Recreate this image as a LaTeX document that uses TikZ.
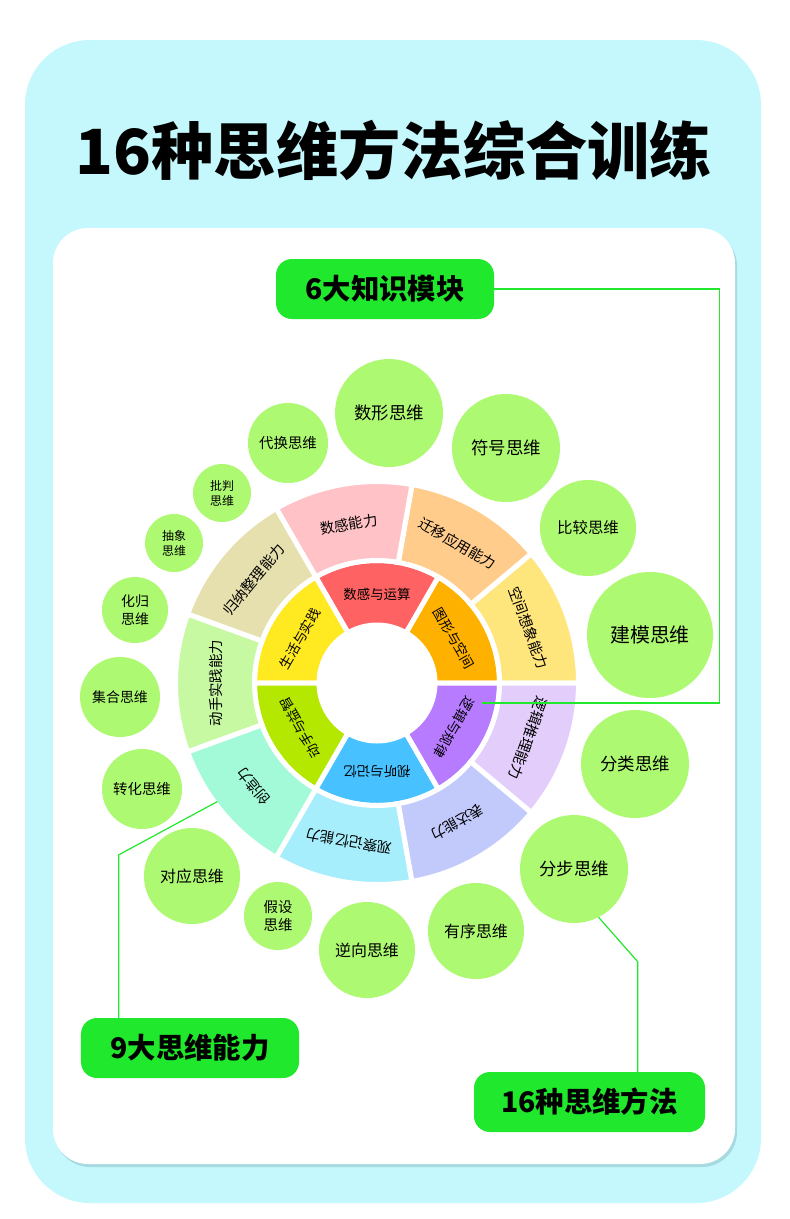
\documentclass[tikz,border=0pt]{standalone}
\usepackage{fontspec}
\usepackage{tikz}
\usetikzlibrary{positioning}
\newfontfamily\cjk{Noto Sans CJK SC}
\newcommand\fsz[2]{\fontsize{#1}{#2}\selectfont}

\definecolor{panelcyan}{HTML}{C4F8FC}
\definecolor{panelshade}{HTML}{A6DADE}
\definecolor{taggreen}{HTML}{20E82C}
\definecolor{thinkgreen}{HTML}{AEF972}
\definecolor{tuxing}{HTML}{FFB100}
\definecolor{shugan}{HTML}{FF6262}
\definecolor{shenghuo}{HTML}{FFEA22}
\definecolor{dongshou}{HTML}{B5E800}
\definecolor{shiting}{HTML}{47C1FF}
\definecolor{luoji}{HTML}{B77BFF}
\definecolor{kongjian}{HTML}{FFE67C}
\definecolor{qianyi}{HTML}{FFCC8C}
\definecolor{shugannl}{HTML}{FFC2C6}
\definecolor{guina}{HTML}{E6DFAE}
\definecolor{dongshounl}{HTML}{C7F8A2}
\definecolor{chuangzao}{HTML}{A2FAD9}
\definecolor{guancha}{HTML}{A6EEFC}
\definecolor{biaoda}{HTML}{C2C9FB}
\definecolor{tuili}{HTML}{E3CDFB}

\tikzset{
  tag/.style={fill=taggreen, rounded corners=16bp, minimum width=218bp, minimum height=60bp,
    inner sep=0pt, font=\cjk\bfseries\fsz{28.5}{34}},
  think/.style={circle, fill=thinkgreen, inner sep=0pt, align=center},
  link/.style={draw=taggreen, line width=1.2bp},
  sector/.style={draw=white, line width=5bp},
  ringtext/.style={font=\cjk\fsz{14}{16}},
}

\begin{document}
\begin{tikzpicture}[x=1bp, y=-1bp]
  \useasboundingbox (0,0) rectangle (790,1219);
  \fill[panelcyan, rounded corners=65bp] (25,40) rectangle (761,1203);
  \fill[panelshade, rounded corners=35bp] (55,231) rectangle (737,1167);
  \fill[white, rounded corners=35bp] (53,228) rectangle (735,1164);

  \node[font=\cjk\bfseries\fsz{62.5}{66}] (title) at (394,150) {16种思维方法综合训练};

  \begin{scope}[shift={(377,683)}, y=1bp]
    \foreach \a/\col/\txt in {0/tuxing/图形与空间, 60/shugan/数感与运算, 120/shenghuo/生活与实践,
        180/dongshou/动手与益智, 240/shiting/视听与记忆, 300/luoji/逻辑与规律}{
      \filldraw[fill=\col, sector] (\a:58) arc[start angle=\a, delta angle=60, radius=58]
        -- (\a+60:122.5) arc[start angle=\a+60, delta angle=-60, radius=122.5] -- cycle;
      \node[ringtext, font=\cjk\fsz{13.5}{16}, rotate=\a-60] at (\a+30:89) {\txt};
    }
    \foreach \a/\col/\txt in {0/kongjian/空间想象能力, 40/qianyi/迁移应用能力, 80/shugannl/数感能力,
        120/guina/归纳整理能力, 160/dongshounl/动手实践能力, 200/chuangzao/创造力,
        240/guancha/观察记忆能力, 280/biaoda/表达能力, 320/tuili/逻辑推理能力}{
      \filldraw[fill=\col, sector] (\a:122.5) arc[start angle=\a, delta angle=40, radius=122.5]
        -- (\a+40:201.5) arc[start angle=\a+40, delta angle=-40, radius=201.5] -- cycle;
      \node[ringtext, font=\cjk\fsz{14.5}{16}, rotate=\a-70] at (\a+20:161) {\txt};
    }
    \coordinate (luojiend) at (-10.8:107);
    \coordinate (chuangzaoend) at (216.6:199);
  \end{scope}

  \node[think, minimum size=108bp, font=\cjk\fsz{17.5}{20}] (shuxing) at (389,413) {数形思维};
  \node[think, minimum size=108bp, font=\cjk\fsz{17.5}{20}] (fuhao) at (506,448) {符号思维};
  \node[think, minimum size=96bp, font=\cjk\fsz{15.5}{18}] (bijiao) at (588,528) {比较思维};
  \node[think, minimum size=126bp, font=\cjk\fsz{20}{24}] (jianmo) at (650,635) {建模思维};
  \node[think, minimum size=108bp, font=\cjk\fsz{17.5}{20}] (fenlei) at (635,764) {分类思维};
  \node[think, minimum size=108bp, font=\cjk\fsz{17.5}{20}] (fenbu) at (574,869) {分步思维};
  \node[think, minimum size=96bp, font=\cjk\fsz{16}{18}] (youxu) at (476,931) {有序思维};
  \node[think, minimum size=96bp, font=\cjk\fsz{16}{18}] (nixiang) at (367,950) {逆向思维};
  \node[think, minimum size=68bp, font=\cjk\fsz{14.5}{18}] (jiashe) at (278,916) {假设\\思维};
  \node[think, minimum size=96bp, font=\cjk\fsz{16}{18}] (duiying) at (192,876) {对应思维};
  \node[think, minimum size=80bp, font=\cjk\fsz{14.5}{18}] (zhuanhua) at (142,789) {转化思维};
  \node[think, minimum size=80bp, font=\cjk\fsz{14}{18}] (jihe) at (120,697) {集合思维};
  \node[think, minimum size=66bp, font=\cjk\fsz{14}{18}] (huagui) at (135,610) {化归\\思维};
  \node[think, minimum size=58bp, font=\cjk\fsz{12}{15}] (chouxiang) at (174,543) {抽象\\思维};
  \node[think, minimum size=58bp, font=\cjk\fsz{12}{15}] (pipan) at (222,493) {批判\\思维};
  \node[think, minimum size=80bp, font=\cjk\fsz{14.5}{18}] (daihuan) at (288,443) {代换思维};

  \node[tag] (zhishi) at (385,289) {6大知识模块};
  \node[tag] (nengli) at (190,1048) {9大思维能力};
  \node[tag, minimum width=231bp] (fangfa) at (589.5,1102) {16种思维方法};

  \draw[link] (zhishi.east) -- ++(225,0) |- (luojiend);
  \draw[link] ([xshift=38bp]nengli.north west) -- ++(0,-163) -- (chuangzaoend);
  \draw[link] ([xshift=164bp]fangfa.north west) -- ++(0,-110) -- (fenbu.-63);
\end{tikzpicture}
\end{document}
